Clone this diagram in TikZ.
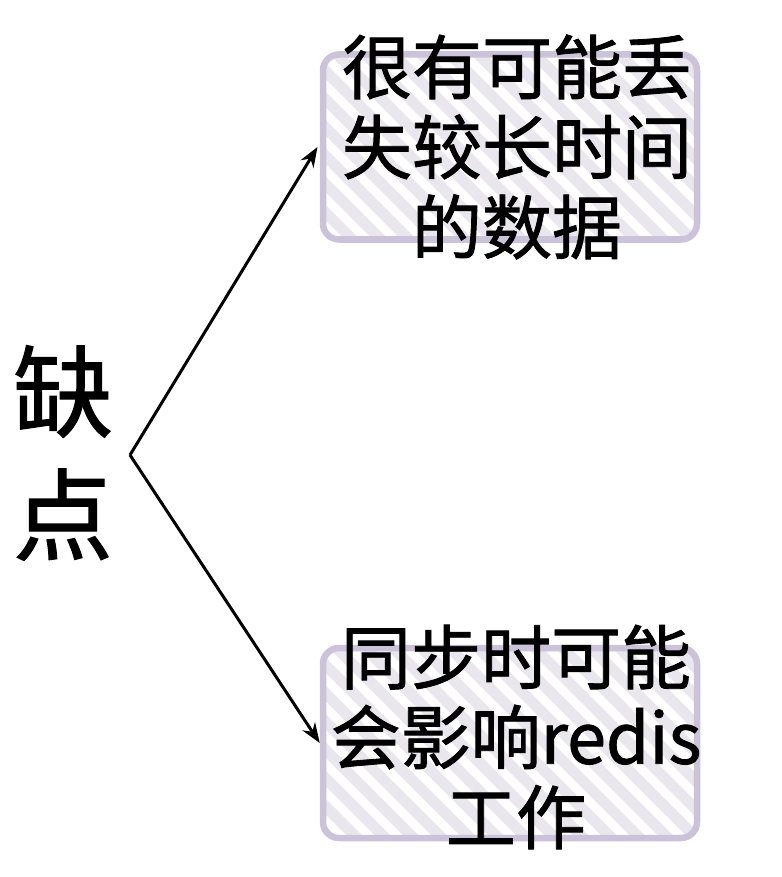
\documentclass[tikz,border=0pt]{standalone}
\usepackage{fontspec}
\newfontfamily\cjk[FakeBold=1.2]{Noto Sans CJK SC}
\usetikzlibrary{patterns.meta,arrows.meta}
\definecolor{boxline}{HTML}{CCC2D9}
\definecolor{hatch}{HTML}{E9E6EE}
\begin{document}
\begin{tikzpicture}[x=1pt,y=-1pt]
		\tikzset{note/.style = {draw=boxline, line width=6.5pt, rounded corners=16pt, minimum width=374pt, inner sep=0pt,
				pattern={Lines[angle=-45, distance=20pt, line width=11pt]}, pattern color=hatch},
			words/.style = {font=\cjk\fontsize{70}{80}\selectfont, align=center, inner sep=0pt},
			link/.style = {-{Stealth[length=20pt, width=15pt]}, line width=3pt}}

		\useasboundingbox (0,0) rectangle (781,877);

		\node[font=\cjk\fontsize{100}{123}\selectfont, align=center, inner sep=0pt] (Q) at (63,453) {缺\\点};
		\coordinate (O) at (130,455);

		\node[note, minimum height=185pt] (B_1) at (510,147) {};
		\node[note, minimum height=190pt] (B_2) at (510,743) {};
		\node[words] (T_1) at ([xshift=7pt]B_1) {很有可能丢\\失较长时间\\的数据};
		\node[words] (T_2) at ([xshift=6pt,yshift=6pt]B_2) {同步时可能\\会影响redis\\工作};

		\draw[link] (O)--(B_1.west);
		\draw[link] (O)--(B_2.west);

	\end{tikzpicture}
\end{document}
